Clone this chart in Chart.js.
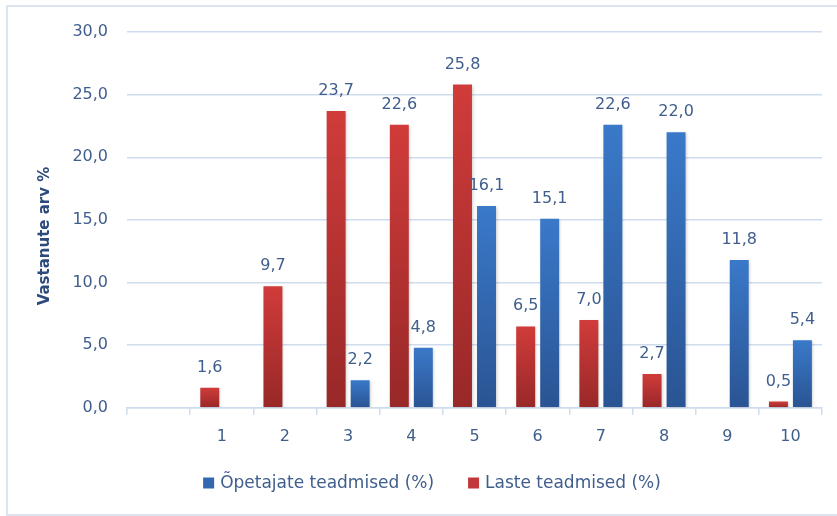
<!DOCTYPE html>
<html>
<head>
<meta charset="utf-8">
<script src="https://cdn.jsdelivr.net/npm/chart.js@4"></script>
<style>
  html, body { margin: 0; padding: 0; background: #fff; }
  #wrap { position: relative; width: 837px; height: 516px; overflow: hidden; }
  #frame { position: absolute; left: 6px; top: 5px; width: 840px; height: 511px; border: 2px solid #DCE4EF; box-sizing: border-box; pointer-events: none; }
</style>
</head>
<body>
<div id="wrap">
  <canvas id="chart" width="837" height="516"></canvas>
  <div id="frame"></div>
</div>
<script>
// andmed
const kategooriad = ['', '1', '2', '3', '4', '5', '6', '7', '8', '9', '10'];
const lasteTeadmised = [null, 1.6, 9.7, 23.7, 22.6, 25.8, 6.5, 7.0, 2.7, null, 0.5];
const opetajateTeadmised = [null, null, null, 2.2, 4.8, 16.1, 15.1, 22.6, 22.0, 11.8, 5.4];
const yTicks = [0, 5, 10, 15, 20, 25, 30];

const tekstVarv = '#3F5E8C';
const ruudustik = '#CFDCEE';
const FONT = 'DejaVu Sans';

function fmt(v) {
    return v.toFixed(1).replace('.', ',');
}

// gradient iga tulba jaoks eraldi
function tulbaGradient(hele, tume, vaike) {
    return function (ctx) {
        const chart = ctx.chart;
        const v = ctx.raw;
        if (!chart.chartArea || v == null || !chart.scales.y) return vaike;
        const yTop = chart.scales.y.getPixelForValue(v);
        const yBot = chart.scales.y.getPixelForValue(0);
        if (!isFinite(yTop) || !isFinite(yBot) || yTop === yBot) return vaike;
        const g = chart.ctx.createLinearGradient(0, yTop, 0, yBot);
        g.addColorStop(0, hele);
        g.addColorStop(1, tume);
        return g;
    };
}

// andmesildid tulpade kohal + varjud
const sildid = {
    id: 'sildid',
    beforeDatasetsDraw(chart) {
        const c = chart.ctx;
        c.save();
        c.shadowColor = 'rgba(0,0,0,0.22)';
        c.shadowBlur = 3;
        c.shadowOffsetX = 1;
        c.shadowOffsetY = 1;
    },
    afterDatasetsDraw(chart) {
        const c = chart.ctx;
        c.restore();
        c.save();
        c.font = '16px "' + FONT + '"';
        c.fillStyle = tekstVarv;
        c.textAlign = 'center';
        c.textBaseline = 'alphabetic';
        chart.data.datasets.forEach((ds, i) => {
            const meta = chart.getDatasetMeta(i);
            meta.data.forEach((bar, j) => {
                const v = ds.data[j];
                if (v == null) return;
                c.fillText(fmt(v), bar.x, bar.y - 16);
            });
        });
        c.restore();
    }
};

// telje pealkiri ja legend (Exceli moodi paigutus)
const legendJaTiitel = {
    id: 'legendJaTiitel',
    afterDraw(chart) {
        const c = chart.ctx;
        c.save();
        // y-telje pealkiri
        c.translate(45, 236);
        c.rotate(-Math.PI / 2);
        c.font = 'bold 15px "' + FONT + '"';
        c.fillStyle = '#2C4A7C';
        c.textAlign = 'center';
        c.textBaseline = 'middle';
        c.fillText('Vastanute arv %', 0, 0);
        c.restore();

        // legend: õpetajad enne, siis lapsed
        const kirjed = [chart.data.datasets[1], chart.data.datasets[0]];
        const varvid = ['#3268B0', '#C0383A'];
        c.save();
        c.font = '17px "' + FONT + '"';
        c.textBaseline = 'middle';
        c.textAlign = 'left';
        const kast = 11, vahe = 6, kirjeVahe = 34;
        const laiused = kirjed.map(ds => c.measureText(ds.label).width);
        const kokku = laiused.reduce((s, w) => s + kast + vahe + w, 0) + kirjeVahe * (kirjed.length - 1);
        let x = 432 - kokku / 2;
        const y = 483;
        kirjed.forEach((ds, i) => {
            c.fillStyle = varvid[i];
            c.fillRect(x, y - kast / 2, kast, kast);
            c.fillStyle = tekstVarv;
            c.fillText(ds.label, x + kast + vahe, y + 1);
            x += kast + vahe + laiused[i] + kirjeVahe;
        });
        c.restore();
    }
};

new Chart(document.getElementById('chart'), {
    type: 'bar',
    data: {
        labels: kategooriad,
        datasets: [
            {
                label: 'Laste teadmised (%)',
                data: lasteTeadmised,
                backgroundColor: tulbaGradient('#D03C3A', '#982828', '#C0383A'),
                borderWidth: 0,
                categoryPercentage: 0.76,
                barPercentage: 0.79
            },
            {
                label: 'Õpetajate teadmised (%)',
                data: opetajateTeadmised,
                backgroundColor: tulbaGradient('#3A79C9', '#2A5493', '#3268B0'),
                borderWidth: 0,
                categoryPercentage: 0.76,
                barPercentage: 0.79
            }
        ]
    },
    options: {
        responsive: false,
        animation: false,
        devicePixelRatio: 1,
        layout: { padding: { top: 32, right: 15, bottom: 58, left: 0 } },
        plugins: {
            legend: { display: false },
            tooltip: { enabled: false }
        },
        scales: {
            x: {
                grid: {
                    offset: true,
                    drawOnChartArea: false,
                    drawTicks: true,
                    tickLength: 7,
                    color: ruudustik,
                    lineWidth: 1.5
                },
                border: { color: ruudustik, width: 1.5 },
                ticks: {
                    color: tekstVarv,
                    font: { family: FONT, size: 16 },
                    padding: 12,
                    maxRotation: 0,
                    autoSkip: false
                }
            },
            y: {
                min: 0,
                max: 30,
                afterBuildTicks(scale) {
                    scale.ticks = yTicks.map(v => ({ value: v }));
                },
                grid: {
                    drawTicks: false,
                    color: ruudustik,
                    lineWidth: 1.5
                },
                border: { display: false },
                ticks: {
                    color: tekstVarv,
                    font: { family: FONT, size: 16 },
                    padding: 19,
                    callback: v => fmt(v)
                },
                afterFit(scale) { scale.width = 127; }
            }
        }
    },
    plugins: [sildid, legendJaTiitel]
});
</script>
</body>
</html>
